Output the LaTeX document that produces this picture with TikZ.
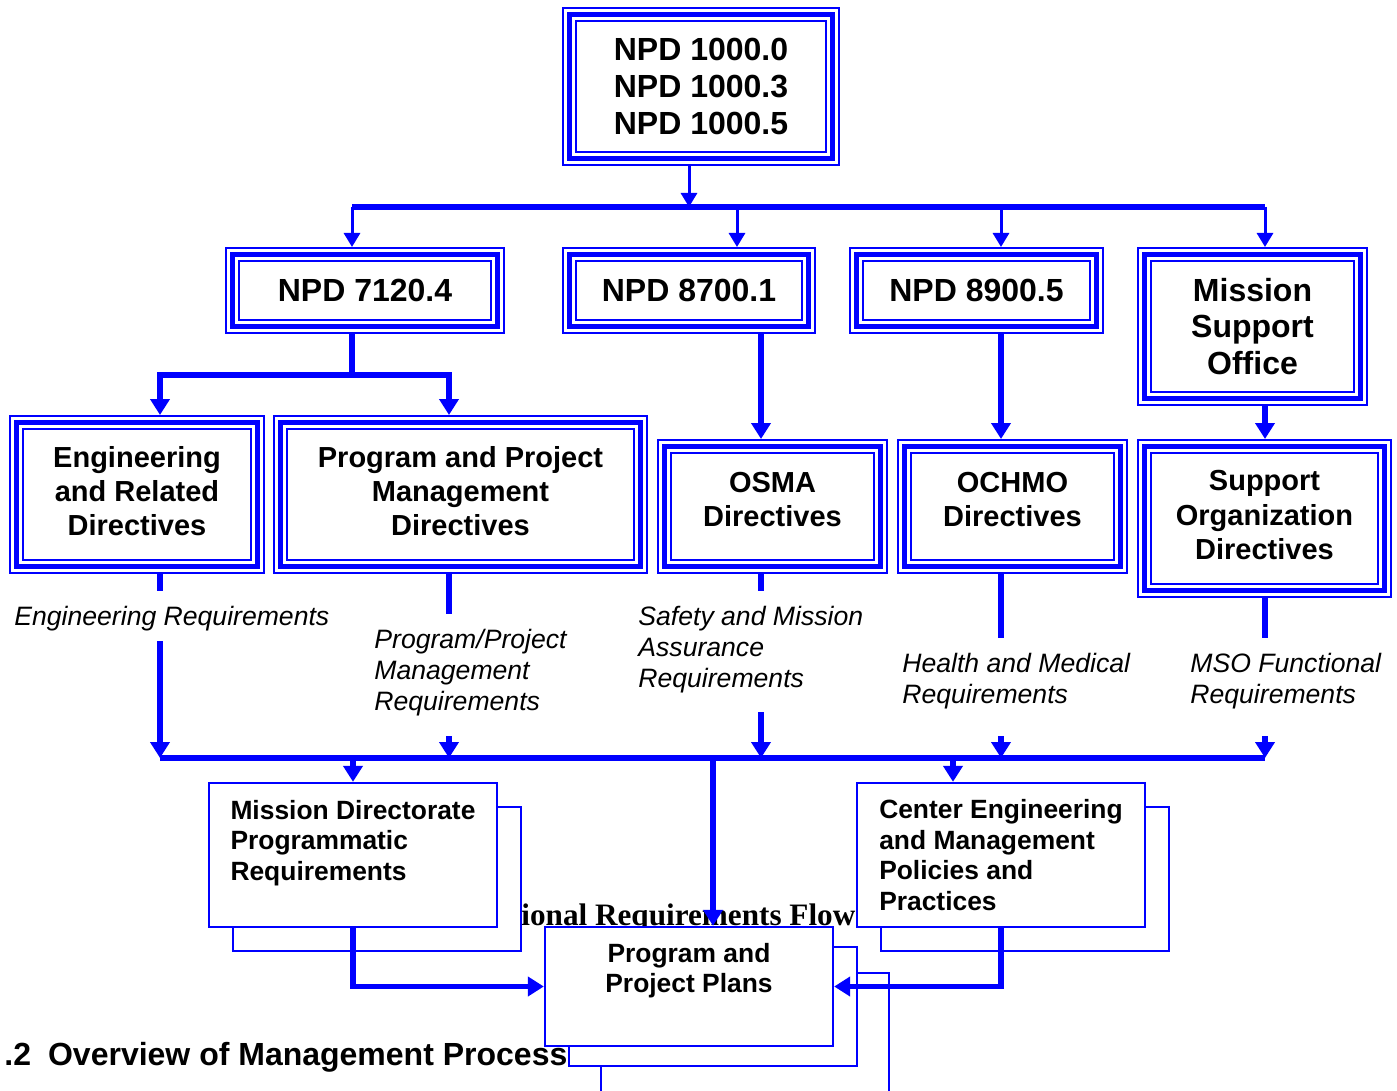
\documentclass[tikz,border=0pt]{standalone}
\usepackage{fontspec}
\setmainfont{Liberation Sans}
\newfontfamily\serifbf{Liberation Serif}
\usetikzlibrary{arrows.meta}

\tikzset{
    tribox/.style={draw=blue, fill=white, line width=7.5pt, outer sep=3.75pt, inner sep=0pt, align=center,
        postaction={draw=white, line width=5.25pt},
        postaction={draw=blue, line width=2.5pt}},
    bigtext/.style={font=\fontsize{16}{18.35}\selectfont\bfseries},
    dirtext/.style={font=\fontsize{14.5}{17.2}\selectfont\bfseries},
    planbox/.style={draw=blue, fill=white, line width=1.15pt, inner sep=0pt, align=left,
        minimum width=144pt, font=\fontsize{13.2}{15.25}\selectfont\bfseries},
    backbox/.style={draw=blue, fill=white, line width=1.15pt},
    reqlabel/.style={anchor=north west, align=left, inner xsep=0pt, inner ysep=7.5pt,
        font=\fontsize{13.3}{15.5}\selectfont\itshape},
    thinarrow/.style={draw=blue, line width=1.5pt, >={Triangle[length=7pt,width=8pt]}, ->},
    thickline/.style={draw=blue, line width=2.75pt},
    thickarrow/.style={thickline, >={Triangle[length=8pt,width=9.5pt]}, ->},
}

\begin{document}
\begin{tikzpicture}[x=0.5pt, y=-0.5pt]
    \useasboundingbox (0,0) rectangle (1397,1091);
    \clip (0,0) rectangle (1397,1091);

    % Page text behind the sheets
    \node[anchor=base west, inner sep=0pt, font=\fontsize{15.6}{18}\selectfont\serifbf\bfseries] (flowtitle) at (521,925) {ional Requirements Flow};
    \node[anchor=base west, inner sep=0pt, font=\fontsize{16}{19}\selectfont\bfseries] (overview) at (4,1065) {.2\hspace{8.5pt}Overview of Management Process};

    % Back sheets
    \draw[backbox] (601,973) rectangle (889,1120);
    \draw[backbox] (233,807) rectangle (521,951);
    \draw[backbox] (881,807) rectangle (1169,951);
    \draw[backbox] (569,947) rectangle (857,1066);

    % Policy directives
    \node[tribox, bigtext, minimum width=131.5pt, minimum height=72pt, text depth=-2pt] (npdtop) at (701,86.5) {NPD 1000.0\\NPD 1000.3\\NPD 1000.5};
    \node[tribox, bigtext, minimum width=132.5pt, minimum height=36pt] (npd7120) at (365,290.5) {NPD 7120.4};
    \node[tribox, bigtext, minimum width=119.5pt, minimum height=36pt] (npd8700) at (689,290.5) {NPD 8700.1};
    \node[tribox, bigtext, minimum width=120pt, minimum height=36pt] (npd8900) at (976.5,290.5) {NPD 8900.5};
    \node[tribox, bigtext, minimum width=108pt, minimum height=72pt] (mso) at (1252.5,326.5) {Mission\\Support\\Office};

    % Directive sets
    \node[tribox, dirtext, minimum width=120.5pt, minimum height=72pt, text depth=3.5pt] (engdir) at (137,494.5) {Engineering\\and Related\\Directives};
    \node[tribox, dirtext, minimum width=180pt, minimum height=72pt, text depth=3.5pt] (ppmdir) at (460.5,494.5) {Program and Project\\Management\\Directives};
    \node[tribox, dirtext, minimum width=108pt, minimum height=60pt, text depth=7.4pt] (osma) at (772.5,506.5) {OSMA\\Directives};
    \node[tribox, dirtext, minimum width=108pt, minimum height=60pt, text depth=7.4pt] (ochmo) at (1012.5,506.5) {OCHMO\\Directives};
    \node[tribox, dirtext, minimum width=120pt, minimum height=72pt, text depth=3.5pt] (sodir) at (1264.5,518.5) {Support\\Organization\\Directives};

    % Requirement labels
    \node[reqlabel, text depth=0pt] (engreq) at (14,591) {Engineering Requirements};
    \node[reqlabel, text depth=5pt] (ppreq) at (374,614) {Program/Project\\Management\\Requirements};
    \node[reqlabel, text depth=4.5pt] (samreq) at (638,591) {Safety and Mission\\Assurance\\Requirements};
    \node[reqlabel, text depth=8.5pt] (hmreq) at (902,638) {Health and Medical\\Requirements};
    \node[reqlabel, text depth=8.5pt] (msoreq) at (1190,638) {MSO Functional\\Requirements};

    % Front sheets
    \node[planbox, minimum height=72pt, text depth=15pt] (mdreq) at (353,855) {Mission Directorate\\Programmatic\\Requirements};
    \node[planbox, minimum height=72pt] (ceprac) at (1001,855) {Center Engineering\\and Management\\Policies and\\Practices};
    \node[planbox, align=center, minimum height=59.5pt, text depth=18.5pt] (ppplan) at (689,986.5) {Program and\\Project Plans};

    % Bus points
    \coordinate (tb0) at (689,207);
    \coordinate (tb1) at (352,207);
    \coordinate (tb2) at (737,207);
    \coordinate (tb3) at (1001,207);
    \coordinate (tb4) at (1265,207);
    \coordinate (sb0) at (352,375);
    \coordinate (sb1) at (160,375);
    \coordinate (sb2) at (449,375);
    \coordinate (lb1) at (160,758);
    \coordinate (lb2) at (449,758);
    \coordinate (lb3) at (761,758);
    \coordinate (lb4) at (1001,758);
    \coordinate (lb5) at (1265,758);
    \coordinate (lbm) at (713,758);
    \coordinate (lbc) at (953,758);

    % Upper bus
    \draw[thinarrow] (npdtop.south -| tb0) -- (tb0);
    \draw[thinarrow] (tb1) -- (tb1 |- npd7120.north);
    \draw[thinarrow] (tb2) -- (tb2 |- npd8700.north);
    \draw[thinarrow] (tb3) -- (tb3 |- npd8900.north);
    \draw[thinarrow] (tb4) -- (tb4 |- mso.north);
    \draw[thickline] (tb1) -- (tb4);

    % Directives to directive sets
    \draw[thickline] (npd7120.south -| sb0) -- (sb0);
    \draw[thickarrow, <->] (sb1 |- engdir.north) -- (sb1) -- (sb2) -- (sb2 |- ppmdir.north);
    \draw[thickarrow] (npd8700.south -| lb3) -- (lb3 |- osma.north);
    \draw[thickarrow] (npd8900.south -| lb4) -- (lb4 |- ochmo.north);
    \draw[thickarrow] (mso.south -| lb5) -- (lb5 |- sodir.north);

    % Requirement flows
    \draw[thickline] (engdir.south -| lb1) -- (lb1 |- engreq.north);
    \draw[thickarrow] (lb1 |- engreq.south) -- (lb1);
    \draw[thickline] (ppmdir.south -| lb2) -- (lb2 |- ppreq.north);
    \draw[thickarrow] (lb2 |- ppreq.south) -- (lb2);
    \draw[thickline] (osma.south -| lb3) -- (lb3 |- samreq.north);
    \draw[thickarrow] (lb3 |- samreq.south) -- (lb3);
    \draw[thickline] (ochmo.south -| lb4) -- (lb4 |- hmreq.north);
    \draw[thickarrow] (lb4 |- hmreq.south) -- (lb4);
    \draw[thickline] (sodir.south -| lb5) -- (lb5 |- msoreq.north);
    \draw[thickarrow] (lb5 |- msoreq.south) -- (lb5);
    \draw[thickline] (lb1) -- (lb5);

    % Lower bus to plans
    \draw[thickarrow] (lb1 -| mdreq.north) -- (mdreq.north);
    \draw[thickarrow] (lbc) -- (lbc |- ceprac.north);
    \draw[thickarrow] (lbm) -- (lbm |- ppplan.north);
    \draw[thickarrow] (mdreq.south) |- (ppplan.west);
    \draw[thickarrow] (ceprac.south) |- (ppplan.east);
\end{tikzpicture}
\end{document}
